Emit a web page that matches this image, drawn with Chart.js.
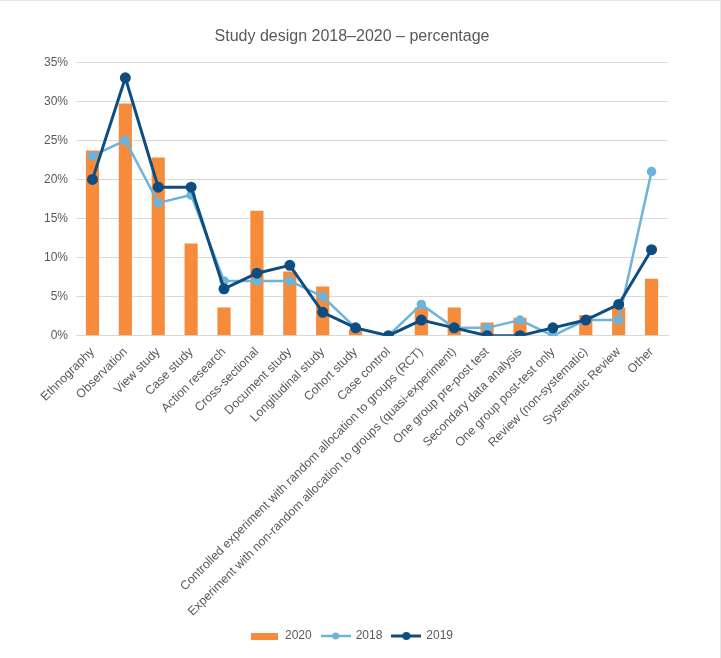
<!DOCTYPE html>
<html>
<head>
<meta charset="utf-8">
<script src="https://cdn.jsdelivr.net/npm/chart.js@4"></script>
<style>
    html, body { margin: 0; padding: 0; background: #fff; }
    #wrap { position: relative; width: 721px; height: 658px; box-sizing: border-box; border-top: 1px solid #e6e6e6; border-right: 1px solid #e6e6e6; }
</style>
</head>
<body>
<div id="wrap"><canvas id="designChart"></canvas></div>
<script>
// 研究设计类别
const designLabels = [
    'Ethnography', 'Observation', 'View study', 'Case study', 'Action research',
    'Cross-sectional', 'Document study', 'Longitudinal study', 'Cohort study', 'Case control',
    'Controlled experiment with random allocation to groups (RCT)',
    'Experiment with non-random allocation to groups (quasi-experiment)',
    'One group pre-post test', 'Secondary data analysis', 'One group post-test only',
    'Review (non-systematic)', 'Systematic Review', 'Other'
];

// 各年份百分比
const pct2020 = [23.7, 29.7, 22.8, 11.8, 3.6, 16, 8.2, 6.3, 0.8, 0, 3.6, 3.6, 1.7, 2.3, 0, 2.6, 3.6, 7.3];
const pct2018 = [23, 25, 17, 18, 7, 7, 7, 5, 1, 0, 4, 1, 1, 2, 0, 2, 2, 21];
const pct2019 = [20, 33, 19, 19, 6, 8, 9, 3, 1, 0, 2, 1, 0, 0, 1, 2, 4, 11];

// y 轴刻度
const yTicks = [0, 5, 10, 15, 20, 25, 30, 35];

const orange = '#f68b3c';
const lightBlue = '#6cb4dc';
const darkBlue = '#0e4d80';
const textGray = '#595959';

// 图例图标
function barIcon(color) {
    const c = document.createElement('canvas');
    c.width = 27; c.height = 7;
    const ctx = c.getContext('2d');
    ctx.fillStyle = color;
    ctx.fillRect(0, 0, 27, 7);
    return c;
}

function lineIcon(color, width, r) {
    const c = document.createElement('canvas');
    c.width = 30; c.height = 10;
    const ctx = c.getContext('2d');
    ctx.strokeStyle = color;
    ctx.lineWidth = width;
    ctx.beginPath();
    ctx.moveTo(0, 5);
    ctx.lineTo(30, 5);
    ctx.stroke();
    ctx.fillStyle = color;
    ctx.beginPath();
    ctx.arc(15, 5, r, 0, Math.PI * 2);
    ctx.fill();
    return c;
}

const legendIcons = [barIcon(orange), lineIcon(lightBlue, 2.5, 3.5), lineIcon(darkBlue, 3, 4)];

Chart.defaults.font.family = 'Arial, "Liberation Sans", sans-serif';
Chart.defaults.color = textGray;

const ctx = document.getElementById('designChart').getContext('2d');
new Chart(ctx, {
    type: 'bar',
    data: {
        labels: designLabels,
        datasets: [
            {
                type: 'bar',
                label: '2020',
                data: pct2020,
                backgroundColor: orange,
                categoryPercentage: 1,
                barPercentage: 0.4,
                order: 3
            },
            {
                type: 'line',
                label: '2018',
                data: pct2018,
                borderColor: lightBlue,
                backgroundColor: lightBlue,
                borderWidth: 2.5,
                pointRadius: 3.5,
                pointHoverRadius: 3.5,
                tension: 0,
                order: 2
            },
            {
                type: 'line',
                label: '2019',
                data: pct2019,
                borderColor: darkBlue,
                backgroundColor: darkBlue,
                borderWidth: 3,
                pointRadius: 4,
                pointHoverRadius: 4,
                tension: 0,
                order: 1
            }
        ]
    },
    options: {
        responsive: true,
        maintainAspectRatio: false,
        animation: false,
        layout: { padding: { left: 36, right: 52, top: 26, bottom: 6 } },
        plugins: {
            title: {
                display: true,
                text: 'Study design 2018–2020 – percentage',
                color: textGray,
                font: { size: 16, weight: 'normal' },
                padding: { top: 0, bottom: 16 }
            },
            legend: {
                position: 'bottom',
                labels: {
                    usePointStyle: true,
                    pointStyleWidth: 28,
                    color: textGray,
                    font: { size: 12 },
                    padding: 10,
                    generateLabels(chart) {
                        return chart.data.datasets.map((ds, i) => ({
                            text: ds.label,
                            pointStyle: legendIcons[i],
                            fillStyle: ds.backgroundColor,
                            strokeStyle: ds.borderColor || ds.backgroundColor,
                            lineWidth: 0,
                            hidden: false,
                            datasetIndex: i,
                            fontColor: textGray
                        }));
                    }
                }
            },
            tooltip: { enabled: false }
        },
        scales: {
            x: {
                grid: { display: false },
                border: { color: '#d9d9d9' },
                ticks: {
                    minRotation: 45,
                    maxRotation: 45,
                    autoSkip: false,
                    color: textGray,
                    font: { size: 12.3 },
                    padding: 1
                }
            },
            y: {
                min: 0,
                max: 35,
                afterBuildTicks(axis) {
                    axis.ticks = yTicks.map(v => ({ value: v }));
                },
                grid: { color: '#d9d9d9', drawTicks: false },
                border: { display: false },
                ticks: {
                    color: textGray,
                    font: { size: 12 },
                    padding: 8,
                    callback: v => v + '%'
                }
            }
        }
    }
});
</script>
</body>
</html>
